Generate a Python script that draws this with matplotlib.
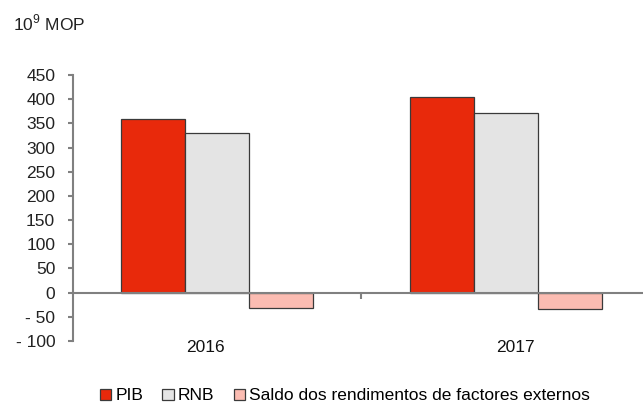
import matplotlib.pyplot as plt
import numpy as np

plt.rcParams['font.family'] = ['Liberation Sans', 'DejaVu Sans']
plt.rcParams['mathtext.fontset'] = 'custom'
plt.rcParams['mathtext.rm'] = 'Liberation Sans'

# data (10^9 MOP)
years = ["2016", "2017"]
pib = [360, 404]
rnb = [330, 371]
saldo = [-31, -34]
series_names = ["PIB", "RNB", "Saldo dos rendimentos de factores externos"]
yticks = [-100, -50, 0, 50, 100, 150, 200, 250, 300, 350, 400, 450]
ytick_labels = ["- 100", "- 50", "0", "50", "100", "150", "200", "250", "300", "350", "400", "450"]

colors = ["#E8290B", "#E4E4E4", "#FBBCB2"]
axis_gray = "#808080"
fs = 12.5

fig = plt.figure(figsize=(6.43, 4.03), dpi=100)
ax = fig.add_axes([0.1135, 0.1538, 0.897, 0.660])

x = np.arange(len(years))
w = 0.222
for i, (vals, name) in enumerate(zip([pib, rnb, saldo], series_names)):
    ax.bar(x + (i - 1) * w, vals, w, color=colors[i], edgecolor="#3a3a3a",
           linewidth=0.9, label=name, zorder=2)

ax.set_xlim(-0.5, 1.5)
ax.set_ylim(-100, 450)

for s in ["top", "right"]:
    ax.spines[s].set_visible(False)
ax.spines["left"].set_color(axis_gray)
ax.spines["left"].set_linewidth(1.5)
ax.spines["bottom"].set_position(("data", 0))
ax.spines["bottom"].set_color(axis_gray)
ax.spines["bottom"].set_linewidth(1.5)
ax.spines["bottom"].set_zorder(3)

ax.set_yticks(yticks)
ax.set_yticklabels(ytick_labels)
ax.tick_params(axis="y", direction="out", length=3.8, width=1.5, color=axis_gray,
               pad=9, labelsize=fs, labelcolor="#222222")
ax.set_xticks([0.5])
ax.set_xticklabels([""])
ax.tick_params(axis="x", direction="out", length=4.5, width=1.5, color=axis_gray)

# category labels below the plot
label_offsets = [-0.04, 0.033]
for xi, yr, off in zip(x, years, label_offsets):
    ax.text(xi + off, -0.023, yr, transform=ax.get_xaxis_transform(),
            ha="center", va="center", fontsize=fs, color="#111111")

fig.text(0.02, 1 - 23 / 403, "10$^{\\mathregular{9}}$ MOP", ha="left", va="center",
         fontsize=fs, color="#222222")

fig.legend(loc="center", bbox_to_anchor=(345 / 643, 1 - 396 / 403), ncol=3,
           frameon=False, fontsize=fs, handlelength=0.65, handleheight=0.65,
           handletextpad=0.25, columnspacing=1.1, borderpad=0)

fig.savefig("out.png", dpi=100)
